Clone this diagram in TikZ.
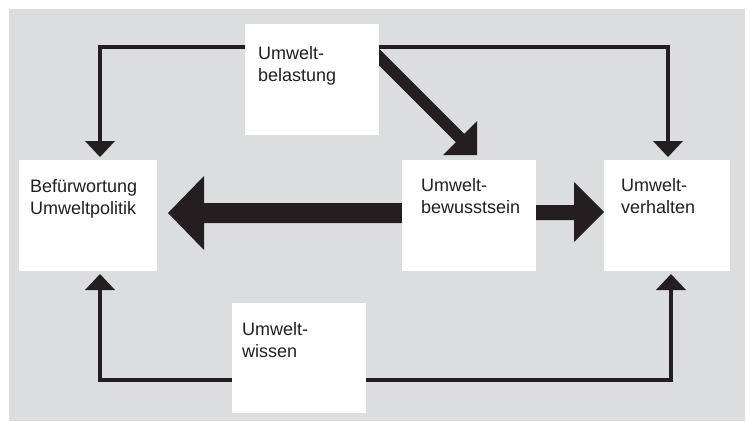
\documentclass[tikz,border=0pt]{standalone}
\usepackage{fontspec}
\setmainfont{Liberation Sans}
\usetikzlibrary{arrows.meta,calc}
\definecolor{bgray}{RGB}{220,221,223}
\definecolor{ink}{RGB}{35,31,32}
\pgfdeclarelayer{back}
\pgfdeclarelayer{mid}
\pgfsetlayers{back,mid,main}
\begin{document}
\begin{tikzpicture}[x=1pt,y=-1pt,
  box/.style={fill=white, draw=none, inner sep=0pt, outer sep=0pt, anchor=north west},
  lbl/.style={font=\fontsize{18}{22}\selectfont, text=ink, inner sep=0pt, anchor=base west},
  conn/.style={draw=ink, line width=3.8pt, line join=miter,
    -{Triangle[length=16pt,width=30pt,line width=0pt]}},
  fat/.style={fill=ink, draw=none}]
\useasboundingbox (0,0) rectangle (750,421);
\begin{pgfonlayer}{back}
  \fill[white] (0,0) rectangle (750,421);
  \fill[bgray] (9,9) rectangle (745,421);
\end{pgfonlayer}

% boxes
\node[box, minimum width=134pt, minimum height=111pt] (bel) at (245,24) {};
\node[box, minimum width=138pt, minimum height=111pt] (bef) at (19,160) {};
\node[box, minimum width=134pt, minimum height=111pt] (bew) at (402,160) {};
\node[box, minimum width=126pt, minimum height=111pt] (ver) at (604,160) {};
\node[box, minimum width=134pt, minimum height=110pt] (wis) at (232,303) {};

% labels
\node[lbl] (tbel) at ($(bel.north west)+(13,35)$) {\parbox[t]{120pt}{Umwelt-\\belastung}};
\node[lbl] (tbef) at ($(bef.north west)+(11,32)$) {\parbox[t]{125pt}{Befürwortung\\Umweltpolitik}};
\node[lbl] (tbew) at ($(bew.north west)+(19,31)$) {\parbox[t]{115pt}{Umwelt-\\bewusstsein}};
\node[lbl] (tver) at ($(ver.north west)+(17,31)$) {\parbox[t]{105pt}{Umwelt-\\verhalten}};
\node[lbl] (twis) at ($(wis.north west)+(10,32)$) {\parbox[t]{120pt}{Umwelt-\\wissen}};

\begin{pgfonlayer}{mid}
  % thin connectors
  \draw[conn] ([yshift=-23pt]bel.north west) -| ([xshift=81pt,yshift=3pt]bef.north west);
  \draw[conn] ([yshift=-23pt]bel.north east) -| ([xshift=1pt,yshift=3pt]ver.north);
  \draw[conn] ([yshift=-77pt]wis.north west) -| ([xshift=81pt,yshift=-3pt]bef.south west);
  \draw[conn] ([yshift=-77pt]wis.north east) -| ([xshift=67pt,yshift=-3pt]ver.south west);

  % fat arrow bewusstsein -> befuerwortung
  \fill[fat] ($(bef.east)+(11,-2.5)$) -- ++(36,-37) -- ++(0,27)
     -- ($(bew.west)+(10,-12.5)$) -- ++(0,20)
     -- ($(bef.east)+(47,7.5)$) -- ++(0,27) -- cycle;

  % fat arrow bewusstsein -> verhalten
  \fill[fat] ($(ver.west)+(0,-3.5)$) -- ++(-30,-30) -- ++(0,23)
     -- ($(bew.east)+(-6,-10.5)$) -- ++(0,15)
     -- ($(ver.west)+(-30,4.5)$) -- ++(0,22) -- cycle;

  % diagonal arrow belastung -> bewusstsein
  \coordinate (dt) at ($(bew.north west)+(75,-5)$);
  \fill[fat] (dt) -- ($(dt)+(-34,0)$) -- ($(dt)+(-21.24,-12.76)$)
     -- ($(dt)+(-113.1,-104.7)$) -- ($(dt)+(-104.7,-113.1)$)
     -- ($(dt)+(-12.76,-21.24)$) -- ($(dt)+(0,-34)$) -- cycle;
\end{pgfonlayer}
\end{tikzpicture}
\end{document}
